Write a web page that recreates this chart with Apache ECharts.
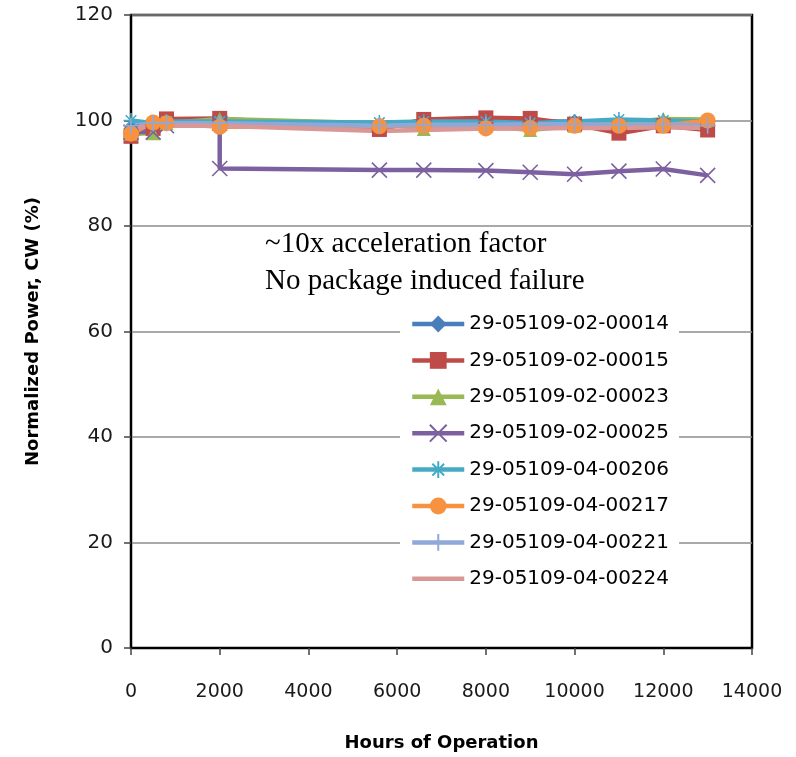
<!DOCTYPE html>
<html>
<head>
<meta charset="utf-8">
<script src="https://cdn.jsdelivr.net/npm/echarts@6/dist/echarts.min.js"></script>
<style>
  html, body { margin: 0; padding: 0; background: #fff; }
  #chart { width: 796px; height: 757px; }
</style>
</head>
<body>
<div id="chart"></div>
<script>
// Hours of operation at each measurement
const hours = [0, 500, 800, 2000, 5600, 6600, 8000, 9000, 10000, 11000, 12000, 13000];

// Normalized CW power (%) per device
const dev00014 = [98.5, 98.0, 99.5, 100.0, 99.2, 99.5, 100.0, 99.8, 99.8, 99.6, 99.8, 99.5];
const dev00015 = [97.0, 98.5, 100.3, 100.4, 98.3, 100.2, 100.5, 100.4, 99.3, 97.6, 99.0, 98.2];
const dev00023 = [97.5, 97.6, 99.5, 100.3, 99.5, 98.4, 99.0, 98.2, 99.0, 99.5, 100.3, 100.2];
// device 00025 drops at 2000 h, so it carries its own hour list
const hours00025 = [0, 500, 800, 2000, 2000, 5600, 6600, 8000, 9000, 10000, 11000, 12000, 13000];
const dev00025 = [97.8, 97.8, 99.0, 99.5, 90.9, 90.6, 90.6, 90.5, 90.2, 89.8, 90.4, 90.8, 89.6];
const dev00206 = [100.0, 99.5, 99.8, 99.8, 99.6, 99.8, 99.8, 99.5, 99.8, 100.2, 100.0, 99.8];
const dev00217 = [97.5, 99.6, 99.5, 98.8, 98.9, 99.0, 98.5, 98.6, 99.0, 99.0, 99.0, 100.0];
const dev00221 = [99.0, 99.5, 99.5, 99.5, 99.0, 99.2, 99.2, 99.3, 99.3, 99.2, 99.3, 99.0];
const dev00224 = [98.5, 99.0, 99.0, 99.0, 98.0, 98.2, 98.5, 98.5, 98.6, 98.6, 98.7, 98.6];

const seriesNames = [
  '29-05109-02-00014', '29-05109-02-00015', '29-05109-02-00023', '29-05109-02-00025',
  '29-05109-04-00206', '29-05109-04-00217', '29-05109-04-00221', '29-05109-04-00224'
];

const yTicks = [0, 20, 40, 60, 80, 100, 120];
const xTicks = [0, 2000, 4000, 6000, 8000, 10000, 12000, 14000];

const annotationLines = ['~10x acceleration factor', 'No package induced failure'];

const pair = (xs, ys) => xs.map((x, i) => [x, ys[i]]);

// Marker outlines drawn as stroked paths
const crossPath = 'path://M0,0L10,10M10,0L0,10';
const starPath = 'path://M5,0L5,10M0,5L10,5M1.5,1.5L8.5,8.5M8.5,1.5L1.5,8.5';
const plusPath = 'path://M5,0L5,10M0,5L10,5';

const styles = [
  { color: '#4A7EBB', symbol: 'diamond', size: 15 },
  { color: '#BE4B48', symbol: 'rect', size: 15 },
  { color: '#98B954', symbol: 'triangle', size: 14 },
  { color: '#7D60A0', symbol: crossPath, size: 15, stroke: true },
  { color: '#46AAC5', symbol: starPath, size: 15, stroke: true },
  { color: '#F69240', symbol: 'circle', size: 16 },
  { color: '#8FA8D8', symbol: plusPath, size: 16, stroke: true },
  { color: '#D99795', symbol: 'none', size: 0 }
];

const dataSets = [
  pair(hours, dev00014), pair(hours, dev00015), pair(hours, dev00023), pair(hours00025, dev00025),
  pair(hours, dev00206), pair(hours, dev00217), pair(hours, dev00221), pair(hours, dev00224)
];

const series = dataSets.map((d, i) => {
  const s = styles[i];
  return {
    name: seriesNames[i],
    type: 'line',
    data: d,
    symbol: s.symbol,
    symbolSize: s.size,
    showSymbol: s.symbol !== 'none',
    lineStyle: { color: s.color, width: 4.5 },
    itemStyle: s.stroke
      ? { color: s.color, borderColor: s.color, borderWidth: 1.6 }
      : { color: s.color, borderWidth: 0 },
    emphasis: { disabled: true },
    animation: false
  };
});

// Legend entries; the plain line entry has no marker
const legendData = seriesNames.map((n, i) =>
  styles[i].symbol === 'none' ? { name: n, itemStyle: { opacity: 0 } } : { name: n }
);

const chart = echarts.init(document.getElementById('chart'), null, { renderer: 'canvas' });
chart.setOption({
  backgroundColor: '#fff',
  animation: false,
  grid: {
    left: 131, right: 44, top: 15, bottom: 109,
    show: true, borderColor: '#000', borderWidth: 2.5, backgroundColor: 'transparent'
  },
  xAxis: {
    type: 'value',
    min: xTicks[0], max: xTicks[xTicks.length - 1], interval: 2000,
    name: 'Hours of Operation',
    nameLocation: 'middle', nameGap: 86,
    nameTextStyle: { fontFamily: 'DejaVu Sans', fontWeight: 'bold', fontSize: 18, color: '#000' },
    axisLine: { lineStyle: { color: '#000', width: 2 } },
    axisTick: { show: true, length: 7, lineStyle: { color: '#444', width: 1.5 } },
    axisLabel: {
      fontFamily: 'DejaVu Sans', fontSize: 19, color: '#1a1a1a', margin: 35,
      formatter: v => String(v)
    },
    splitLine: { show: false }
  },
  yAxis: {
    type: 'value',
    min: yTicks[0], max: yTicks[yTicks.length - 1], interval: 20,
    name: 'Normalized Power, CW (%)',
    nameLocation: 'middle', nameGap: 89,
    nameTextStyle: { fontFamily: 'DejaVu Sans', fontWeight: 'bold', fontSize: 18, color: '#000' },
    axisLine: { show: true, lineStyle: { color: '#000', width: 2 } },
    axisTick: { show: true, length: 7, lineStyle: { color: '#444', width: 1.5 } },
    axisLabel: { fontFamily: 'DejaVu Sans', fontSize: 20, color: '#1a1a1a', margin: 18 },
    splitLine: { show: true, lineStyle: { color: '#8c8c8c', width: 1.5 } }
  },
  legend: {
    orient: 'vertical',
    left: 400, top: 305,
    padding: [8, 10, 8, 10],
    backgroundColor: '#fff',
    itemWidth: 52, itemHeight: 21, itemGap: 14.4,
    lineStyle: { width: 4.5 },
    textStyle: { fontFamily: 'DejaVu Sans', fontSize: 20, color: '#000', lineHeight: 22 },
    data: legendData
  },
  graphic: [
    {
      type: 'text', left: 265, top: 226, silent: true,
      style: {
        text: annotationLines.join('\n'),
        font: '29px "Liberation Serif"', fill: '#000', lineHeight: 37
      }
    }
  ],
  series: series
});
</script>
</body>
</html>
